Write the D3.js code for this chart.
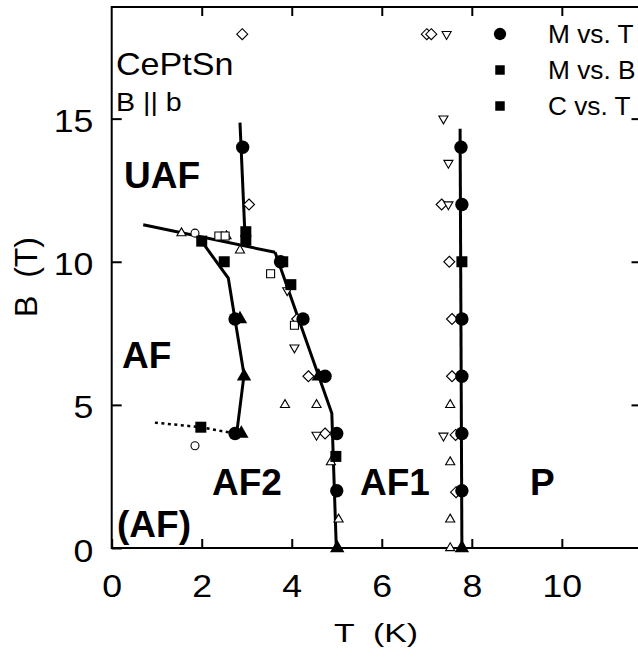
<!DOCTYPE html>
<html><head><meta charset="utf-8">
<script src="https://cdn.jsdelivr.net/npm/d3@7"></script>
<style>
body{margin:0;background:#fff;}
svg{display:block;font-family:"Liberation Sans",Arial,sans-serif;}
</style></head>
<body><svg id="c" width="638" height="658"></svg>
<script>
// ---- data (T in K, B in T) ----
const xTicks = [0, 2, 4, 6, 8, 10];
const yTicks = [0, 5, 10, 15];
const mVsT = [[2.91,14],[2.74,8],[2.74,4],[3.75,10],[4.25,8],[4.74,6],[5.0,4],[5.0,2],
  [7.76,14],[7.78,12],[7.78,8],[7.78,6],[7.78,4],[7.78,2]];
const squaresFilled = [[2.98,11.05],[2.98,10.75],[2.0,10.72],[2.5,10.0],[3.8,10.0],[3.98,9.2],
  [1.98,4.22],[4.98,3.2],[7.78,10.0]];
const trianglesFilled = [[2.85,8],[2.94,6],[2.88,4],[4.6,6],[5.01,0],[7.78,0]];
const diamondsOpen = [[2.9,17.95],[7.0,17.95],[7.1,17.95],[3.05,12],[4.12,8.0],[4.37,6.0],[4.74,4.0],
  [7.33,12],[7.5,10],[7.56,8],[7.56,6],[7.64,3.95],[7.65,1.95]];
const trianglesUpOpen = [[1.55,11.0],[2.55,10.9],[2.85,10.4],[3.85,5.0],[4.55,5.0],[4.87,3.0],[5.04,1.0],
  [7.52,5],[7.52,3],[7.52,1],[7.52,0]];
const trianglesDownOpen = [[7.44,17.95],[7.37,15.0],[7.48,13.45],[7.48,12.0],[3.9,9.0],[4.06,7.0],[4.55,3.95],[7.37,3.92]];
const squaresOpen = [[2.38,10.9],[2.52,10.9],[3.53,9.58],[4.06,7.78]];
const circlesOpen = [[1.85,11.0],[1.85,3.57]];
const lineUAF = [[2.85,14.86],[2.97,10.6]];
const lineTop = [[0.7,11.29],[3.63,10.33]];
const lineAF1 = [[3.63,10.33],[4.89,4.71],[4.99,0]];
const lineAF2 = [[2.0,10.71],[2.59,9.43],[2.94,6.05],[2.78,4.05]];
const lineP = [[7.74,14.65],[7.78,0]];
const lineDotted = [[0.96,4.38],[1.98,4.22],[2.74,4.0]];
const legendItems = ["M vs. T", "M vs. B", "C vs. T"];
const legendShapes = ["circle", "square", "square"];

const svg = d3.select("#c");
const x = d3.scaleLinear().domain([0, 11.77]).range([111.7, 641.5]);
const y = d3.scaleLinear().domain([0, 18.9]).range([548, 7]);
const X0 = x.range()[0], X1 = x.range()[1], Y0 = y.range()[0], Y1 = y.range()[1];

// frame
svg.append("rect").attr("x", X0).attr("y", Y1).attr("width", X1 - X0).attr("height", Y0 - Y1)
  .attr("fill", "none").attr("stroke", "#000").attr("stroke-width", 2);

// axes
const fs = 31;
const gB = svg.append("g").attr("transform", `translate(0,${Y0})`)
  .call(d3.axisBottom(x).tickValues(xTicks).tickSize(-9).tickPadding(27).tickFormat(d3.format("d")));
const gT = svg.append("g").attr("transform", `translate(0,${Y1})`)
  .call(d3.axisTop(x).tickValues(xTicks.slice(1)).tickSize(-9).tickFormat(""));
const gL = svg.append("g").attr("transform", `translate(${X0},0)`)
  .call(d3.axisLeft(y).tickValues(yTicks).tickSize(-10).tickPadding(16).tickFormat(d3.format("d")));
const gR = svg.append("g").attr("transform", `translate(${X1},0)`)
  .call(d3.axisRight(y).tickValues(yTicks.slice(1)).tickSize(-10).tickFormat(""));
[gB, gT, gL, gR].forEach(g => {
  g.select(".domain").remove();
  g.selectAll("line").attr("stroke", "#000").attr("stroke-width", 2);
  g.selectAll("text").style("font-size", fs + "px").style("font-family", "'Liberation Sans', Arial, sans-serif")
    .attr("fill", "#000").attr("transform", "scale(1.15,1)");
});
gL.selectAll("text").attr("dy", "0.42em");

// axis titles
svg.append("text").attr("transform", "translate(376,642) scale(1.3,1)").attr("text-anchor", "middle")
  .style("font-size", "26px").style("white-space", "pre").text("T  (K)");
svg.append("text").attr("transform", "translate(37,277) rotate(-90)").attr("text-anchor", "middle")
  .style("font-size", "32px").style("white-space", "pre").text("B  (T)");

// lines
const line = d3.line().x(d => x(d[0])).y(d => y(d[1]));
[lineUAF, lineTop, lineAF1, lineAF2, lineP].forEach(l => {
  svg.append("path").attr("d", line(l)).attr("fill", "none").attr("stroke", "#000").attr("stroke-width", 3);
});
svg.append("path").attr("d", line(lineDotted)).attr("fill", "none").attr("stroke", "#000")
  .attr("stroke-width", 2.5).attr("stroke-dasharray", "3,3.5");

// marker helpers
const diamondPath = r => `M0,${-r}L${r},0L0,${r}L${-r},0Z`;
function open(data, d, rot) {
  svg.append("g").selectAll("path").data(data).join("path")
    .attr("transform", p => `translate(${x(p[0])},${y(p[1])})` + (rot ? ` rotate(${rot})` : ""))
    .attr("d", d).attr("fill", "#fff").attr("stroke", "#000").attr("stroke-width", 1.1);
}
function filled(data, d) {
  svg.append("g").selectAll("path").data(data).join("path")
    .attr("transform", p => `translate(${x(p[0])},${y(p[1])})`)
    .attr("d", d).attr("fill", "#000");
}
open(diamondsOpen, diamondPath(5.5));
open(trianglesUpOpen, d3.symbol(d3.symbolTriangle, 36)());
open(trianglesDownOpen, d3.symbol(d3.symbolTriangle, 36)(), 180);
open(squaresOpen, d3.symbol(d3.symbolSquare, 64)());
open(circlesOpen, d3.symbol(d3.symbolCircle, 50)());
filled(trianglesFilled, d3.symbol(d3.symbolTriangle, 90)());
filled(squaresFilled, d3.symbol(d3.symbolSquare, 121)());
filled(mVsT, d3.symbol(d3.symbolCircle, 140)());

// legend
const lg = svg.append("g");
legendItems.forEach((t, i) => {
  const cy = 34 + i * 36;
  lg.append("path").attr("transform", `translate(500,${cy})`)
    .attr("d", legendShapes[i] === "circle" ? d3.symbol(d3.symbolCircle, 120)() : d3.symbol(d3.symbolSquare, 90)())
    .attr("fill", "#000");
  lg.append("text").attr("transform", `translate(548,${cy + 9}) scale(1.05,1)`).style("font-size", "25px").text(t);
});

// annotations
svg.append("text").attr("transform", "translate(116,75) scale(1.1,1)").style("font-size", "31px").text("CePtSn");
svg.append("text").attr("transform", "translate(116,111) scale(1.1,1)").style("font-size", "26px").text("B || b");
const bold = [["UAF",124,188],["AF",122,368],["AF2",212,495],["(AF)",117,537],["AF1",360,495],["P",530,495]];
bold.forEach(b => svg.append("text").attr("x", b[1]).attr("y", b[2]).style("font-size", "37px")
  .attr("font-weight", "bold").text(b[0]));
</script></body></html>
